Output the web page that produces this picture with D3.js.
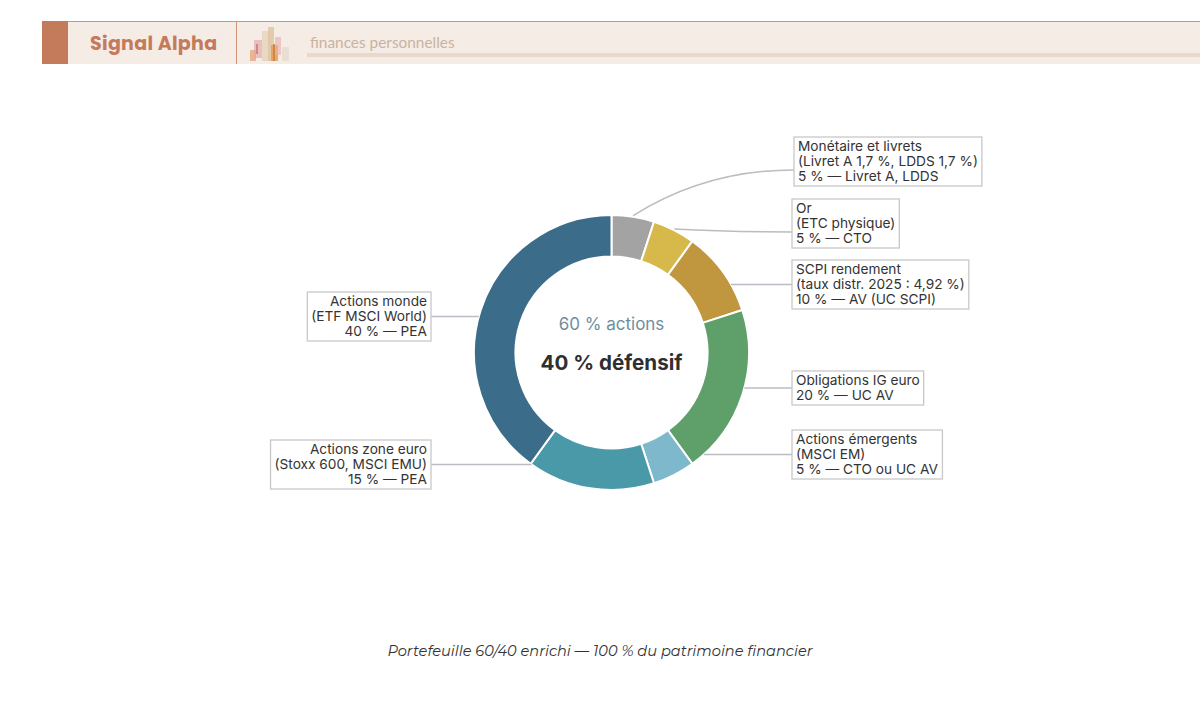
<!DOCTYPE html>
<html><head><meta charset="utf-8">
<script src="https://cdn.jsdelivr.net/npm/d3@7"></script>
<style>
html,body{margin:0;padding:0;background:#fff;}
svg{display:block;}
</style></head>
<body>
<svg id="c" width="1200" height="721"></svg>
<script>
// ---- data ----
const categories = ["Monétaire et livrets","Or","SCPI rendement","Obligations IG euro","Actions émergents","Actions zone euro","Actions monde"];
const values = [5,5,10,20,5,15,40];
const details = ["(Livret A 1,7 %, LDDS 1,7 %)","(ETC physique)","(taux distr. 2025 : 4,92 %)","","(MSCI EM)","(Stoxx 600, MSCI EMU)","(ETF MSCI World)"];
const envelopes = ["Livret A, LDDS","CTO","AV (UC SCPI)","UC AV","CTO ou UC AV","PEA","PEA"];
const colors = ["#a3a3a3","#d6b84b","#c0963f","#5e9f6a","#7db8cc","#4a99a8","#3b6c89"];
const centerTop = "60 % actions";
const centerBottom = "40 % défensif";
const caption = "Portefeuille 60/40 enrichi — 100 % du patrimoine financier";

// ---- layout (label box anchors: side, box x edge, box top, curved leader) ----
const labelLayout = [
  {side:"r", x:794, top:137, curve:true},
  {side:"r", x:792, top:199, curve:true},
  {side:"r", x:792, top:260},
  {side:"r", x:792, top:371},
  {side:"r", x:792, top:430},
  {side:"l", x:431, top:440},
  {side:"l", x:431, top:292}
];

const svg = d3.select("#c");
const font = "Inter, 'Noto Sans', sans-serif";

// ---- header ----
const hdr = svg.append("g");
hdr.append("rect").attr("x",42).attr("y",21).attr("width",1158).attr("height",43).attr("fill","#f6ece6");
hdr.append("rect").attr("x",42).attr("y",21).attr("width",1158).attr("height",1).attr("fill","#d39378");
hdr.append("rect").attr("x",42).attr("y",21).attr("width",26).attr("height",43).attr("fill","#c47b5c");
hdr.append("rect").attr("x",236).attr("y",21).attr("width",1).attr("height",43).attr("fill","#d39378");
hdr.append("text").attr("x",90).attr("y",50).text("Signal Alpha")
  .attr("font-family","Poppins, Lato, 'Open Sans', sans-serif").attr("font-weight",700).attr("font-size",19)
  .attr("fill","#c47b5c").attr("letter-spacing",0.3);
const iconBars = [
  {x:250,y:50,w:6,h:11,c:"#e9a77e",o:0.8},
  {x:254,y:40,w:8,h:18,c:"#e3a4a4",o:0.6},
  {x:262,y:31,w:8,h:30,c:"#e8d6c0",o:0.9},
  {x:268,y:27,w:6,h:34,c:"#dfc3a0",o:0.8},
  {x:271,y:45,w:7,h:16,c:"#e39a55",o:0.8},
  {x:275,y:37,w:6,h:18,c:"#e8b0aa",o:0.6},
  {x:282,y:47,w:7,h:14,c:"#e8ddd0",o:0.9},
  {x:256,y:44,w:2,h:10,c:"#c06060",o:0.6},
  {x:273,y:44,w:2,h:17,c:"#c77a2a",o:0.7}
];
hdr.selectAll("rect.ib").data(iconBars).enter().append("rect").attr("class","ib")
  .attr("x",d=>d.x).attr("y",d=>d.y).attr("width",d=>d.w).attr("height",d=>d.h)
  .attr("fill",d=>d.c).attr("opacity",d=>d.o);
hdr.append("text").attr("x",310).attr("y",48).text("finances personnelles")
  .attr("font-family","Lato, 'Open Sans', sans-serif").attr("font-size",15.4).attr("fill","#c9b39f");
hdr.append("rect").attr("x",307).attr("y",53).attr("width",893).attr("height",4).attr("fill","#e7d9cc");

// ---- donut ----
const cx = 611.5, cy = 352.5, R = 137.5, r0 = 96;
const g = svg.append("g").attr("transform",`translate(${cx},${cy})`);
const data = categories.map((c,i)=>({name:c,value:values[i],detail:details[i],env:envelopes[i],color:colors[i],lay:labelLayout[i]}));
const pie = d3.pie().value(d=>d.value).sort(null);
const arc = d3.arc().innerRadius(r0).outerRadius(R);
const arcs = pie(data);
g.selectAll("path.s").data(arcs).enter().append("path").attr("class","s")
  .attr("d",arc).attr("fill",d=>d.data.color).attr("stroke","#fff").attr("stroke-width",2);

g.append("text").attr("x",0).attr("y",-23).attr("text-anchor","middle").text(centerTop)
  .attr("font-family",font).attr("font-size",17).attr("fill","#6e8ea0");
g.append("text").attr("x",0).attr("y",17).attr("text-anchor","middle").text(centerBottom)
  .attr("font-family",font).attr("font-size",20.6).attr("font-weight",700).attr("fill","#2f2f2f");

// ---- labels ----
const lineH = 15, pad = 4;
const lg = svg.append("g");
arcs.forEach(a=>{
  const d = a.data, L = d.lay;
  const lines = [d.name].concat(d.detail ? [d.detail] : []).concat([`${d.value} % — ${d.env}`]);
  const grp = lg.append("g");
  const txt = grp.append("text").attr("font-family",font).attr("font-size",13.7).attr("fill","#333");
  lines.forEach((t,i)=>{
    txt.append("tspan").attr("x",0).attr("y",lineH*i).text(t);
  });
  const bb = txt.node().getBBox();
  const w = bb.width + pad*2, h = lines.length*lineH + 4;
  const bx = L.side==="r" ? L.x : L.x - w;
  txt.attr("text-anchor", L.side==="r" ? "start" : "end")
     .attr("transform",`translate(${L.side==="r" ? bx+pad : L.x-pad},${L.top+14})`);
  grp.insert("rect","text").attr("x",bx).attr("y",L.top).attr("width",w).attr("height",h)
     .attr("fill","#fff").attr("stroke","#c8c8c8").attr("stroke-width",1.3);
  const yc = L.top + h/2;
  let path;
  if (L.curve) {
    const mid = (a.startAngle+a.endAngle)/2;
    const sx = cx + (R+1)*Math.sin(mid), sy = cy - (R+1)*Math.cos(mid);
    const ex = L.x, ey = L.top + (lines.length===3 ? 33 : h/2);
    path = `M${sx},${sy} Q${sx+(ex-sx)*0.45},${ey} ${ex},${ey}`;
  } else {
    const dy = yc - cy;
    const dx = Math.sqrt(Math.max(0,R*R - dy*dy));
    const sx = L.side==="r" ? cx + dx : cx - dx;
    path = `M${sx},${yc} L${L.x},${yc}`;
  }
  lg.insert("path",":first-child").attr("d",path).attr("fill","none").attr("stroke","#b9bcc2").attr("stroke-width",1.5);
});

// ---- caption ----
svg.append("text").attr("x",600).attr("y",656).attr("text-anchor","middle").text(caption)
  .attr("font-family","Montserrat, 'Open Sans', sans-serif").attr("font-style","italic").attr("font-size",14.6).attr("fill","#333");
</script>
</body></html>
